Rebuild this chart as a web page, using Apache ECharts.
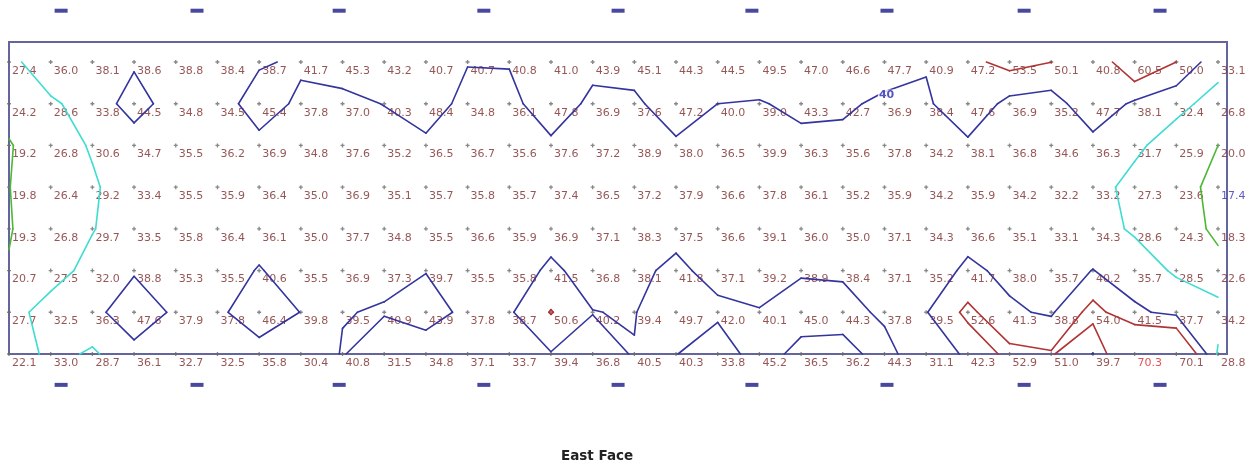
<!DOCTYPE html>
<html lang="en">
<head>
<meta charset="UTF-8">
<title>East Face</title>
<script src="https://cdn.jsdelivr.net/npm/echarts@6/dist/echarts.min.js"></script>
<style>html,body{margin:0;padding:0;background:#fff}</style>
</head>
<body>
<div id="container" style="width:1258px;height:468px"></div>
<script>
// readings, top row first, 30 columns each
var row1 = [27.4, 36.0, 38.1, 38.6, 38.8, 38.4, 38.7, 41.7, 45.3, 43.2, 40.7, 40.7, 40.8, 41.0, 43.9, 45.1, 44.3, 44.5, 49.5, 47.0, 46.6, 47.7, 40.9, 47.2, 53.5, 50.1, 40.8, 60.5, 50.0, 33.1];
var row2 = [24.2, 28.6, 33.8, 44.5, 34.8, 34.5, 45.4, 37.8, 37.0, 40.3, 48.4, 34.8, 36.1, 47.8, 36.9, 37.6, 47.2, 40.0, 39.0, 43.3, 42.7, 36.9, 38.4, 47.6, 36.9, 35.2, 47.7, 38.1, 32.4, 26.8];
var row3 = [19.2, 26.8, 30.6, 34.7, 35.5, 36.2, 36.9, 34.8, 37.6, 35.2, 36.5, 36.7, 35.6, 37.6, 37.2, 38.9, 38.0, 36.5, 39.9, 36.3, 35.6, 37.8, 34.2, 38.1, 36.8, 34.6, 36.3, 31.7, 25.9, 20.0];
var row4 = [19.8, 26.4, 29.2, 33.4, 35.5, 35.9, 36.4, 35.0, 36.9, 35.1, 35.7, 35.8, 35.7, 37.4, 36.5, 37.2, 37.9, 36.6, 37.8, 36.1, 35.2, 35.9, 34.2, 35.9, 34.2, 32.2, 33.2, 27.3, 23.6, 17.4];
var row5 = [19.3, 26.8, 29.7, 33.5, 35.8, 36.4, 36.1, 35.0, 37.7, 34.8, 35.5, 36.6, 35.9, 36.9, 37.1, 38.3, 37.5, 36.6, 39.1, 36.0, 35.0, 37.1, 34.3, 36.6, 35.1, 33.1, 34.3, 28.6, 24.3, 18.3];
var row6 = [20.7, 27.5, 32.0, 38.8, 35.3, 35.5, 40.6, 35.5, 36.9, 37.3, 39.7, 35.5, 35.8, 41.5, 36.8, 38.1, 41.8, 37.1, 39.2, 38.9, 38.4, 37.1, 35.2, 41.7, 38.0, 35.7, 40.2, 35.7, 28.5, 22.6];
var row7 = [27.7, 32.5, 36.3, 47.6, 37.9, 37.8, 46.4, 39.8, 39.5, 40.9, 43.9, 37.8, 38.7, 50.6, 40.2, 39.4, 49.7, 42.0, 40.1, 45.0, 44.3, 37.8, 39.5, 52.6, 41.3, 38.8, 54.0, 41.5, 37.7, 34.2];
var row8 = [22.1, 33.0, 28.7, 36.1, 32.7, 32.5, 35.8, 30.4, 40.8, 31.5, 34.8, 37.1, 33.7, 39.4, 36.8, 40.5, 40.3, 33.8, 45.2, 36.5, 36.2, 44.3, 31.1, 42.3, 52.9, 51.0, 39.7, 70.3, 70.1, 28.8];
var levels = [20, 30, 40, 50];
var labelLevel = 40, labelCol = 21;
// small marks above and below the face, in column units
var dashCols = [1.25, 4.51, 7.92, 11.39, 14.61, 17.82, 21.06, 24.35, 27.61];

var levelColors = ['#4cb834', '#3fdcd2', '#34349e', '#b03434'];
var grid = [row1, row2, row3, row4, row5, row6, row7, row8];
var nRow = grid.length, nCol = grid[0].length;

function textColor(v) {
    if (v < 18) return '#3434b0';
    if (v > 70.2) return '#e02424';
    return '#7c2c2c';
}

// marching squares, saddles keep the high corners joined
function contour(level) {
    var segs = [];
    for (var r = 0; r < nRow - 1; r++) {
        for (var c = 0; c < nCol - 1; c++) {
            var tl = grid[r][c], tr = grid[r][c + 1], bl = grid[r + 1][c], br = grid[r + 1][c + 1];
            var hTL = tl >= level, hTR = tr >= level, hBR = br >= level, hBL = bl >= level;
            var e = {};
            if (hTL != hTR) e.t = [c + (level - tl) / (tr - tl), r];
            if (hTR != hBR) e.r = [c + 1, r + (level - tr) / (br - tr)];
            if (hBL != hBR) e.b = [c + (level - bl) / (br - bl), r + 1];
            if (hTL != hBL) e.l = [c, r + (level - tl) / (bl - tl)];
            var k = Object.keys(e);
            if (k.length == 2) {
                segs.push(e[k[0]].concat(e[k[1]]));
            } else if (k.length == 4) {
                if (hTL) {
                    segs.push(e.t.concat(e.r));
                    segs.push(e.l.concat(e.b));
                } else {
                    segs.push(e.t.concat(e.l));
                    segs.push(e.r.concat(e.b));
                }
            }
        }
    }
    return segs;
}

var chart = echarts.init(document.getElementById('container'));

var points = [];
grid.forEach(function (row, r) {
    row.forEach(function (v, c) {
        points.push({ value: [c, r, v], label: { color: textColor(v) } });
    });
});

var series = [{
    type: 'scatter',
    silent: true,
    symbol: 'path://M1,0h1v1h1v1h-1v1h-1v-1h-1v-1h1z',
    symbolSize: 4,
    itemStyle: { color: '#6a6a6a' },
    label: {
        show: true,
        position: 'right',
        distance: 1,
        offset: [0, 9],
        fontFamily: 'DejaVu Sans',
        fontSize: 11,
        formatter: function (p) { return p.value[2].toFixed(1); }
    },
    data: points,
    z: 2
}];

levels.forEach(function (lv, i) {
    series.push({
        type: 'custom',
        coordinateSystem: 'cartesian2d',
        silent: true,
        clip: false,
        z: 3,
        encode: { x: [0, 2], y: [1, 3] },
        data: contour(lv),
        renderItem: function (params, api) {
            var a = api.coord([api.value(0), api.value(1)]);
            var b = api.coord([api.value(2), api.value(3)]);
            return {
                type: 'line',
                shape: { x1: a[0], y1: a[1], x2: b[0], y2: b[1] },
                style: { stroke: levelColors[i], lineWidth: 1.6, lineCap: 'round' }
            };
        }
    });
});

// contour label where the 40 line crosses one column
var v0 = grid[0][labelCol], v1 = grid[1][labelCol];
series.push({
    type: 'scatter',
    silent: true,
    symbolSize: 0,
    z: 4,
    label: {
        show: true,
        position: 'inside',
        formatter: String(labelLevel),
        color: '#2a2ab0',
        fontFamily: 'DejaVu Sans',
        fontWeight: 'bold',
        fontSize: 11,
        backgroundColor: '#fff',
        padding: [0, 1]
    },
    data: [[labelCol + 0.05, (labelLevel - v0) / (v1 - v0) + 0.08]]
});

var dashData = [];
dashCols.forEach(function (c) {
    dashData.push([c, -1.23]);
    dashData.push([c, 7.74]);
});
series.push({
    type: 'scatter',
    silent: true,
    clip: false,
    symbol: 'rect',
    symbolSize: [13, 4],
    itemStyle: { color: '#1a1a86' },
    data: dashData
});

chart.setOption({
    animation: false,
    backgroundColor: '#fff',
    title: {
        text: 'East Face',
        left: 561,
        top: 449,
        padding: 0,
        textStyle: { fontFamily: 'DejaVu Sans', fontSize: 13.5, fontWeight: 'bold', color: '#222' }
    },
    grid: {
        left: 9, top: 42, width: 1218, height: 312,
        show: true,
        borderColor: '#64649e',
        borderWidth: 2,
        backgroundColor: 'transparent'
    },
    xAxis: { type: 'value', min: 0, max: 29.216, show: false },
    yAxis: { type: 'value', min: -0.48, max: 7, inverse: true, show: false },
    series: series
});
</script>
</body>
</html>
